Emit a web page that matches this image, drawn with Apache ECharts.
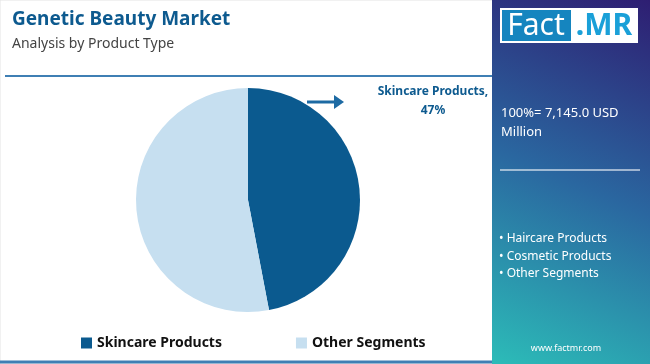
<!DOCTYPE html>
<html><head><meta charset="utf-8">
<script src="https://cdn.jsdelivr.net/npm/echarts@6/dist/echarts.min.js"></script>
<style>html,body{margin:0;padding:0;background:#fff;}#c{width:650px;height:364px;}</style>
</head><body><div id="c"></div>
<script>
const categories = ["Skincare Products", "Other Segments"];
const shares = [47, 53];
const colors = ["#0b5a8f", "#c6dff0"];
const totalText = "100%= 7,145.0 USD";
const totalUnit = "Million";
const otherItems = ["Haircare Products", "Cosmetic Products", "Other Segments"];

const F = "'Noto Sans', 'Open Sans', sans-serif";
const chart = echarts.init(document.getElementById('c'), null, {renderer: 'canvas'});
const panelGrad = new echarts.graphic.LinearGradient(0, 1, 1, 0, [
  {offset: 0, color: '#2cbcb8'},
  {offset: 0.5, color: '#2a67a0'},
  {offset: 1, color: '#2e1e72'}
]);
chart.setOption({
  backgroundColor: '#ffffff',
  animation: false,
  legend: {
    left: 76, top: 331, itemWidth: 11, itemHeight: 11, itemGap: 74,
    icon: 'rect',
    textStyle: {fontFamily: F, fontWeight: 'bold', fontSize: 14, color: '#111'},
    data: categories
  },
  series: [{
    type: 'pie', center: [248, 200], radius: 112, startAngle: 90, clockwise: true,
    label: {show: false}, labelLine: {show: false},
    emphasis: {disabled: true},
    data: categories.map((c, i) => ({name: c, value: shares[i], itemStyle: {color: colors[i]}}))
  }],
  graphic: [
    {type: 'rect', shape: {x: 0, y: 0, width: 650, height: 364}, style: {fill: 'none', stroke: '#e3e3e3', lineWidth: 1}, z: 0},
    {type: 'text', left: 12, top: 10, style: {text: 'Genetic Beauty Market', font: "bold 19px " + F, fill: '#0d5a8f'}},
    {type: 'text', left: 12, top: 37, style: {text: 'Analysis by Product Type', font: "14px " + F, fill: '#444'}},
    {type: 'line', shape: {x1: 5, y1: 76, x2: 492, y2: 76}, style: {stroke: '#3f7fb4', lineWidth: 2}},
    {type: 'line', shape: {x1: 0, y1: 362, x2: 650, y2: 362}, style: {stroke: '#3f7fb4', lineWidth: 3}},
    {type: 'line', shape: {x1: 307, y1: 102, x2: 336, y2: 102}, style: {stroke: '#1d6aa3', lineWidth: 3}},
    {type: 'polygon', shape: {points: [[334, 95], [344, 102], [334, 109]]}, style: {fill: '#1d6aa3'}},
    {type: 'text', x: 433, y: 82, style: {text: categories[0] + ',\n' + shares[0] + '%', font: "bold 12px " + F, fill: '#0d5a8f', align: 'center', lineHeight: 19}},
    {type: 'rect', shape: {x: 492, y: 0, width: 158, height: 364}, style: {fill: panelGrad}},
    {type: 'rect', shape: {x: 500, y: 8, width: 138, height: 35}, style: {fill: '#ffffff'}},
    {type: 'rect', shape: {x: 502, y: 10, width: 69, height: 31}, style: {fill: '#1585bf'}},
    {type: 'text', x: 536, y: 26, style: {text: 'Fact', font: "30px " + F, fill: '#fff', align: 'center', verticalAlign: 'middle'}},
    {type: 'text', x: 604, y: 26, style: {text: '.MR', font: "bold 30px " + F, fill: '#1aa0d8', align: 'center', verticalAlign: 'middle'}},
    {type: 'text', left: 501, top: 104, style: {text: totalText + '\n' + totalUnit, font: "13px " + F, fill: '#fff', lineHeight: 19}},
    {type: 'line', shape: {x1: 500, y1: 170, x2: 640, y2: 170}, style: {stroke: 'rgba(255,255,255,0.55)', lineWidth: 2}},
    {type: 'text', left: 499, top: 230, style: {text: otherItems.map(s => '\u2022 ' + s).join('\n'), font: "12px " + F, fill: '#fff', lineHeight: 17.5}},
    {type: 'text', x: 566, y: 348, style: {text: 'www.factmr.com', font: "9px " + F, fill: '#fff', align: 'center', verticalAlign: 'middle'}}
  ]
});
</script></body></html>
